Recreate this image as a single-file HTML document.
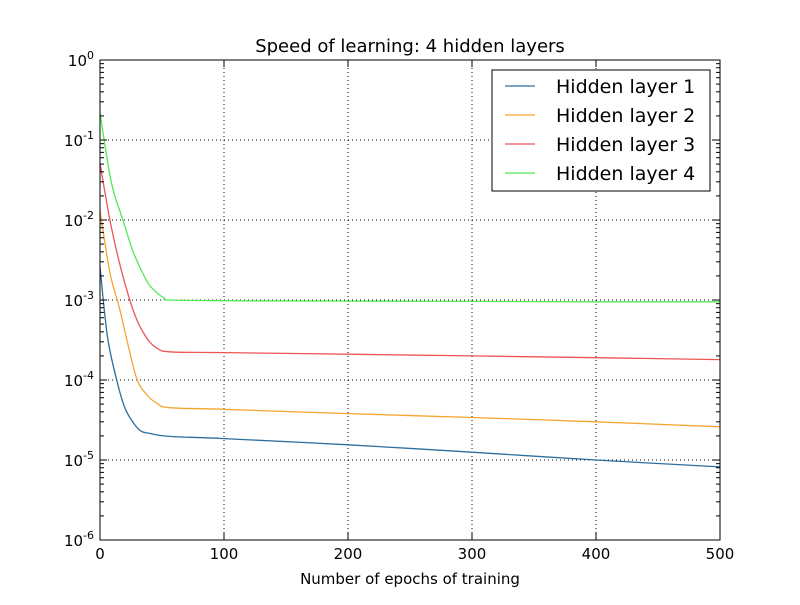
<!DOCTYPE html>
<html><head><meta charset="utf-8"><style>
body{margin:0;background:#fff}
svg text{font-family:"DejaVu Sans","Liberation Sans",sans-serif;fill:#000}
</style></head><body>
<svg id="chart" width="800" height="600"></svg>
<script>
const xTicks=[0,100,200,300,400,500];
const yExps=[0,-1,-2,-3,-4,-5,-6];
const seriesNames=["Hidden layer 1","Hidden layer 2","Hidden layer 3","Hidden layer 4"];
const seriesColors=["#2c6e9e","#f5a52e","#ee5555","#55e855"];
const epochs1=[0,6,13.5,20,27,33,40,56,100,200,300,400,500];
const layer1=[2.6e-3,3.5e-4,1e-4,4.5e-5,2.9e-5,2.3e-5,2.15e-5,1.97e-5,1.85e-5,1.55e-5,1.25e-5,1.0e-5,8.2e-6];
const epochs2=[0,8,16,23,30,38,46,56,100,200,300,400,500];
const layer2=[1.3e-2,2.2e-3,7.6e-4,2.6e-4,1.0e-4,6.5e-5,5.1e-5,4.5e-5,4.3e-5,3.8e-5,3.4e-5,3.0e-5,2.6e-5];
const epochs3=[0,8,16,24,30,35,40,46,56,100,200,300,400,500];
const layer3=[5.1e-2,1e-2,2.8e-3,1e-3,5.5e-4,3.9e-4,3.0e-4,2.5e-4,2.25e-4,2.2e-4,2.1e-4,2.0e-4,1.9e-4,1.8e-4];
const epochs4=[0,9,18.5,26,32,39,46,52,56,100,200,300,400,500];
const layer4=[2.2e-1,3e-2,1e-2,4.3e-3,2.6e-3,1.6e-3,1.23e-3,1.05e-3,1.0e-3,9.8e-4,9.7e-4,9.6e-4,9.5e-4,9.5e-4];
const allX=[epochs1,epochs2,epochs3,epochs4], allY=[layer1,layer2,layer3,layer4];

const NS="http://www.w3.org/2000/svg", svg=document.getElementById('chart');
const L=100,R=720,T=60,B=540;
const xs=v=>L+(v-0)/(500-0)*(R-L);
const ys=v=>T+(0-Math.log10(v))/6*(B-T);
function mk(tag,attrs,parent){const e=document.createElementNS(NS,tag);for(const k in attrs)e.setAttribute(k,attrs[k]);(parent||svg).appendChild(e);return e;}
function smoothPath(P){
 let d='M'+P[0][0].toFixed(1)+','+P[0][1].toFixed(1);
 for(let i=0;i<P.length-1;i++){
  const p0=P[i-1]||P[i],p1=P[i],p2=P[i+1],p3=P[i+2]||P[i+1];
  const c1=[p1[0]+(p2[0]-p0[0])/6,p1[1]+(p2[1]-p0[1])/6];
  const c2=[p2[0]-(p3[0]-p1[0])/6,p2[1]-(p3[1]-p1[1])/6];
  d+=' C'+c1.map(v=>v.toFixed(1)).join(',')+' '+c2.map(v=>v.toFixed(1)).join(',')+' '+p2.map(v=>v.toFixed(1)).join(',');
 }
 return d;
}

xTicks.forEach(t=>{if(t>0&&t<500){const g=mk('line',{x1:xs(t),x2:xs(t),y1:T,y2:B,stroke:'#000','stroke-width':1,'stroke-dasharray':'1,3'});

}});
yExps.forEach(e=>{if(e<0&&e>-6){const g=mk('line',{x1:L,x2:R,y1:ys(Math.pow(10,e)),y2:ys(Math.pow(10,e)),stroke:'#000','stroke-width':1,'stroke-dasharray':'1,3'});

}});

allX.forEach((xa,i)=>{
 const P=xa.map((x,j)=>[xs(x),ys(allY[i][j])]);
 const p=mk('path',{d:smoothPath(P),fill:'none',stroke:seriesColors[i],'stroke-width':1.3,'stroke-linejoin':'round'});
 
 
});

xTicks.forEach(t=>{
 mk('line',{x1:xs(t),x2:xs(t),y1:B,y2:B-7,stroke:'#000'});
 mk('line',{x1:xs(t),x2:xs(t),y1:T,y2:T+7,stroke:'#000'});
 const tx=mk('text',{x:xs(t),y:B+19,'text-anchor':'middle','font-size':15});tx.textContent=t;
 
 
});
yExps.forEach(e=>{
 const y=ys(Math.pow(10,e));
 mk('line',{x1:L,x2:L+7,y1:y,y2:y,stroke:'#000'});
 mk('line',{x1:R,x2:R-7,y1:y,y2:y,stroke:'#000'});
 if(e>-6)for(let m=2;m<10;m++){const yy=ys(m*Math.pow(10,e-1));
  mk('line',{x1:L,x2:L+4,y1:yy,y2:yy,stroke:'#000'});mk('line',{x1:R,x2:R-4,y1:yy,y2:yy,stroke:'#000'});}
 const tx=mk('text',{x:L-6,y:y+6,'text-anchor':'end','font-size':15});
 tx.textContent='10';const s=mk('tspan',{dy:-7,'font-size':11},tx);s.textContent=String(e);
 
 
});
const frame=mk('rect',{x:L,y:T,width:R-L,height:B-T,fill:'none',stroke:'#000','stroke-width':1});



const title=mk('text',{x:410,y:52,'text-anchor':'middle','font-size':18});title.textContent='Speed of learning: 4 hidden layers';


const xl=mk('text',{x:410,y:584,'text-anchor':'middle','font-size':15});xl.textContent='Number of epochs of training';



const lg=mk('g',{});


mk('rect',{x:492,y:70,width:218,height:121,fill:'#fff',stroke:'#000','stroke-width':1},lg);
seriesNames.forEach((n,i)=>{
 const y=86+i*29;
 const en=mk('g',{},lg);
 
 
 mk('line',{x1:505,x2:535,y1:y,y2:y,stroke:seriesColors[i],'stroke-width':1.3},en);
 const t=mk('text',{x:556,y:y+7,'font-size':19},en);t.textContent=n;
});
</script>
</body></html>
